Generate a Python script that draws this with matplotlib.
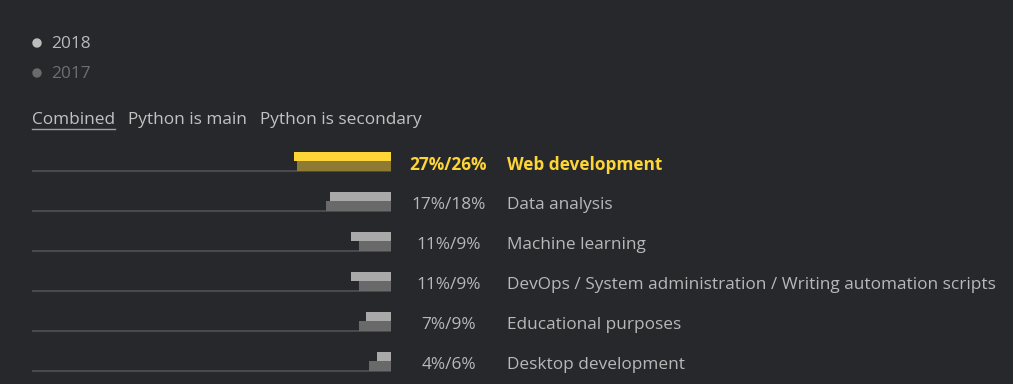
import matplotlib.pyplot as plt
from matplotlib.patches import Circle

plt.rcParams['font.family'] = ['Open Sans', 'DejaVu Sans']

# data
categories = ['Web development', 'Data analysis', 'Machine learning',
              'DevOps / System administration / Writing automation scripts',
              'Educational purposes', 'Desktop development']
share_2018 = [27, 17, 11, 11, 7, 4]
share_2017 = [26, 18, 9, 9, 9, 6]
years = ['2018', '2017']
tabs = ['Combined', 'Python is main', 'Python is secondary']

bg = '#27282c'
fig = plt.figure(figsize=(10.13, 3.84), dpi=100, facecolor=bg)

# overlay axes in pixel units for texts
ov = fig.add_axes([0, 0, 1, 1])
ov.set_xlim(0, 1013)
ov.set_ylim(384, 0)
ov.axis('off')
ov.set_facecolor(bg)

# bars axes: x in percent, right-aligned bars
W, H = 1013, 384
ax = fig.add_axes([32 / W, 1 - 381 / H, (391 - 32) / W, 240 / H])
ax.set_facecolor('none')
ax.set_xlim(99.7, 0)
ax.set_ylim(len(categories), 0)
ax.axis('off')

fs = 12.4
for i, (c, a, b) in enumerate(zip(categories, share_2018, share_2017)):
    hl = i == 0
    c18 = '#fdd536' if hl else '#a9a9a9'
    c17 = '#8e7a33' if hl else '#696969'
    ax.axhline(i + 0.75, color='#4d4e52', lw=1.3, zorder=1)
    ax.barh(i + 0.39, a, height=0.23, left=0, color=c18, zorder=2)
    ax.barh(i + 0.625, b, height=0.25, left=0, color=c17, zorder=3)
    tc = '#fdd536' if hl else '#b8b8b8'
    fw = 'bold' if hl else 'normal'
    yy = 141 + 40 * i + 24
    ov.text(448.5, yy, f'{a}%/{b}%', color=tc, fontsize=fs, fontweight=fw,
            ha='center', va='center')
    ov.text(507, yy, c, color=tc, fontsize=fs, fontweight=fw,
            ha='left', va='center')

# legend
for k, (yr, dc, tcol) in enumerate(zip(years, ['#bdbdbd', '#6b6b6b'], ['#b8b8b8', '#6e6e6e'])):
    y = 43 + 30 * k
    ov.add_patch(Circle((37, y), 4, color=dc))
    ov.text(51, y + 1, yr, color=tcol, fontsize=fs, va='center', ha='left')

# tabs
tab_x = [32, 128, 260]
for t, x in zip(tabs, tab_x):
    ov.text(x, 120, t, color='#c2c2c2', fontsize=fs, va='center', ha='left')
ov.plot([32, 115], [128.5, 128.5], color='#a0a0a0', lw=1)

fig.savefig('out.png', dpi=100, facecolor=bg)
